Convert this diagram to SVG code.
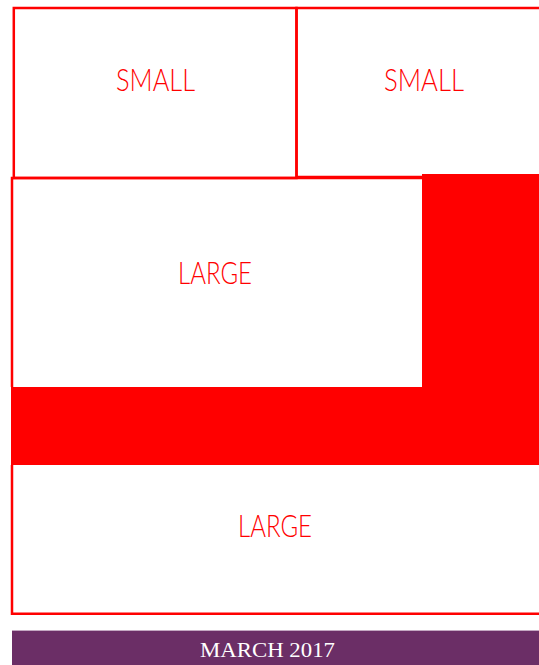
<svg xmlns="http://www.w3.org/2000/svg" width="539" height="665" viewBox="0 0 539 665">
<style>
.box{fill:none;stroke:#ff0000;stroke-width:2.5}
.lbl{font-family:"Lato","Liberation Sans",Arial,sans-serif;font-weight:300;font-size:31px;fill:#ff0000;text-anchor:middle}
.band{fill:#ff0000}
</style>
<rect width="539" height="665" fill="#ffffff"/>
<g id="decor">
<path class="band" d="M422 174 H539 V465 H11 V387 H422 Z"/>
</g>
<g id="small1">
<rect class="box" x="13.8" y="8" width="282.7" height="170"/>
<text class="lbl" x="155.5" y="91" textLength="79" lengthAdjust="spacingAndGlyphs">SMALL</text>
</g>
<g id="small2">
<path class="box" d="M541 8 H296.5 V177 H422"/>
<text class="lbl" x="424" y="91" textLength="80" lengthAdjust="spacingAndGlyphs">SMALL</text>
</g>
<g id="large1">
<path class="box" d="M422 178 H12 V387"/>
<text class="lbl" x="215" y="284" textLength="74" lengthAdjust="spacingAndGlyphs">LARGE</text>
</g>
<g id="large2">
<path class="box" d="M12 465 V613.8 H541"/>
<text class="lbl" x="275" y="537" textLength="74" lengthAdjust="spacingAndGlyphs">LARGE</text>
</g>
<g id="connectors"></g>
<g id="footer">
<rect x="12" y="630" width="527" height="35" fill="#6b2e66"/>
<rect x="12" y="630" width="527" height="1" fill="#c4a8c2"/>
<text x="267.5" y="657" font-family="'Liberation Serif','Times New Roman',serif" font-size="20" fill="#ffffff" text-anchor="middle" textLength="135" lengthAdjust="spacingAndGlyphs">MARCH 2017</text>
</g>
</svg>
